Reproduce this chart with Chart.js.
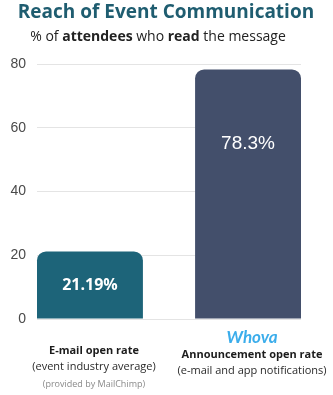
<!DOCTYPE html>
<html>
<head>
<meta charset="utf-8">
<script src="https://cdn.jsdelivr.net/npm/chart.js@4/dist/chart.umd.min.js"></script>
<style>
  html, body { margin: 0; padding: 0; background: #ffffff; }
  #wrap { position: relative; width: 333px; height: 395px; }
</style>
</head>
<body>
<div id="wrap"><canvas id="chart" width="333" height="395"></canvas></div>
<script>
// Chart content
const titleText = 'Reach of Event Communication';
const subtitleParts = [
  ['% of ', false],
  ['attendees', true],
  [' who ', false],
  ['read', true],
  [' the message', false]
];
const categories = ['E-mail open rate', 'Announcement open rate'];
const categoryNotes = ['(event industry average)', '(e-mail and app notifications)'];
const categorySources = ['(provided by MailChimp)', ''];
const categoryBrands = ['', 'Whova'];
const openRates = [21.19, 78.3];
const yTickValues = [0, 20, 40, 60, 80];

// Styling
const barColors = ['#1d6479', '#434f6b'];
const valueFonts = ['700 16px "Open Sans"', '400 19px "Liberation Sans"'];
const valueLift = [0.5, 0.3];          // fraction of bar height from its top where the value sits
const barShare = 0.67;                 // bar width relative to the spacing between bars
const FONT_SANS = '"Open Sans", "DejaVu Sans", sans-serif';

// Title and mixed-weight subtitle above the plot
const headerPlugin = {
  id: 'header',
  afterDraw(chart) {
    const ctx = chart.ctx;
    ctx.save();
    ctx.textBaseline = 'middle';
    ctx.fillStyle = '#1f5d70';
    ctx.textAlign = 'center';
    ctx.font = '700 19px ' + FONT_SANS;
    ctx.fillText(titleText, 166, 13);

    // subtitle: measure segments first so the line is centered
    const fontFor = (bold) => (bold ? '700 ' : '400 ') + '14px ' + FONT_SANS;
    let total = 0;
    subtitleParts.forEach(([t, b]) => { ctx.font = fontFor(b); total += ctx.measureText(t).width; });
    let x = 158 - total / 2;
    ctx.textAlign = 'left';
    ctx.fillStyle = '#222222';
    subtitleParts.forEach(([t, b]) => {
      ctx.font = fontFor(b);
      ctx.fillText(t, x, 37);
      x += ctx.measureText(t).width;
    });
    ctx.restore();
  }
};

// Spread the two categories so the outer bars sit flush with the plot edges
const categorySpan = {
  id: 'categorySpan',
  afterLayout(chart) {
    const area = chart.chartArea;
    const x = chart.scales.x;
    const w = area.right - area.left;
    const spacing = w / (1 + barShare);
    x.left = area.left - spacing * (1 - barShare) / 2;
    x.right = x.left + 2 * spacing;
    x.configure();
  }
};

// Value labels inside the bars and the multi-line category captions below
const labelsPlugin = {
  id: 'barLabels',
  afterDatasetsDraw(chart) {
    const ctx = chart.ctx;
    const meta = chart.getDatasetMeta(0);
    ctx.save();
    ctx.textAlign = 'center';
    ctx.textBaseline = 'middle';
    meta.data.forEach((bar, i) => {
      const v = chart.data.datasets[0].data[i];
      ctx.fillStyle = '#ffffff';
      ctx.font = valueFonts[i];
      const y = bar.y + (bar.base - bar.y) * valueLift[i];
      ctx.fillText(v + '%', bar.x, y);

      const cx = bar.x + 4;
      if (categoryBrands[i]) {
        ctx.fillStyle = '#3badeb';
        ctx.font = 'italic 700 17px "Lato", ' + FONT_SANS;
        ctx.fillText(categoryBrands[i], cx, 338);
      }
      const top = categoryBrands[i] ? 355 : 351;
      ctx.fillStyle = '#1c1c1c';
      ctx.font = '700 11px ' + FONT_SANS;
      ctx.fillText(categories[i], cx, top);
      ctx.fillStyle = '#2a2a2a';
      ctx.font = '400 11px ' + FONT_SANS;
      ctx.fillText(categoryNotes[i], cx, top + 16);
      if (categorySources[i]) {
        ctx.fillStyle = '#8a8a8a';
        ctx.font = '400 9px ' + FONT_SANS;
        ctx.fillText(categorySources[i], cx, 384);
      }
    });
    ctx.restore();
  }
};

new Chart(document.getElementById('chart'), {
  type: 'bar',
  data: {
    labels: categories,
    datasets: [{
      data: openRates,
      backgroundColor: barColors,
      borderRadius: { topLeft: 9, topRight: 9, bottomLeft: 0, bottomRight: 0 },
      borderSkipped: 'bottom',
      categoryPercentage: 1,
      barPercentage: barShare
    }]
  },
  options: {
    responsive: false,
    animation: false,
    events: [],
    layout: { padding: { top: 64, right: 32, bottom: 76, left: 0 } },
    plugins: {
      legend: { display: false },
      title: { display: false },
      tooltip: { enabled: false }
    },
    scales: {
      x: {
        display: false
      },
      y: {
        min: 0,
        max: 80,
        afterFit(scale) { scale.width = 37; },
        afterBuildTicks(scale) { scale.ticks = yTickValues.map(v => ({ value: v })); },
        border: { display: false },
        grid: { color: '#e4e4e4', lineWidth: 1, drawTicks: false },
        ticks: {
          padding: 11,
          color: '#4a4a4a',
          font: { family: '"Liberation Sans", Arial, sans-serif', size: 14 }
        }
      }
    }
  },
  plugins: [headerPlugin, categorySpan, labelsPlugin]
});
</script>
</body>
</html>
